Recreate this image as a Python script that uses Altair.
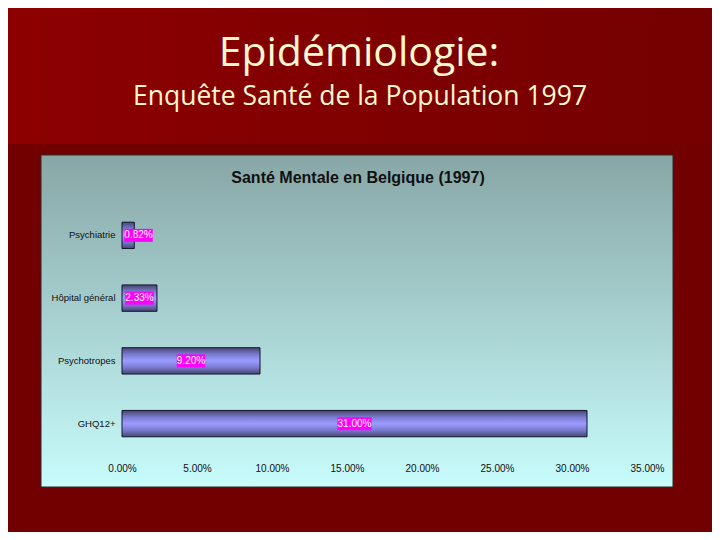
import altair as alt
import pandas as pd

# ---- data ----
categories = ["Psychiatrie", "Hôpital général", "Psychotropes", "GHQ12+"]
values = [0.0082, 0.0233, 0.092, 0.31]
x_ticks = [0.0, 0.05, 0.10, 0.15, 0.20, 0.25, 0.30, 0.35]
slide_title = "Epidémiologie:"
slide_subtitle = "Enquête Santé de la Population 1997"
chart_title = "Santé Mentale en Belgique (1997)"

df = pd.DataFrame({"cat": categories, "v": values})
one = pd.DataFrame({"t": [0]})

W, H = 525, 251
PL, PT, PR, PB = 114, 196, 65, 77

xscale = alt.Scale(domain=[0, 0.35], nice=False, zero=True)
yscale = alt.Scale(domain=categories, paddingInner=0.58, paddingOuter=0.29)

# backgrounds
bg = alt.Chart(one).mark_rect(color="#720000").encode(
    x=alt.value(-PL), x2=alt.value(W + PR), y=alt.value(-PT), y2=alt.value(H + PB)
)
bg_top = alt.Chart(one).mark_rect(
    color=alt.Gradient(
        gradient="linear", x1=0, x2=1, y1=0, y2=0,
        stops=[alt.GradientStop(offset=0, color="#8d0000"),
               alt.GradientStop(offset=1, color="#740000")],
    )
).encode(x=alt.value(-PL), x2=alt.value(W + PR), y=alt.value(-PT), y2=alt.value(-60))

panel = alt.Chart(one).mark_rect(
    color=alt.Gradient(
        gradient="linear", x1=0, x2=0, y1=0, y2=1,
        stops=[alt.GradientStop(offset=0, color="#88a6a6"),
               alt.GradientStop(offset=1, color="#c8fcfc")],
    ),
    stroke="#2a2a2a", strokeWidth=1,
).encode(x=alt.value(-81), x2=alt.value(551), y=alt.value(-49), y2=alt.value(283))

bar_grad = alt.Gradient(
    gradient="linear", x1=0, x2=0, y1=0, y2=1,
    stops=[alt.GradientStop(offset=0, color="#45456e"),
           alt.GradientStop(offset=0.25, color="#7a7ad0"),
           alt.GradientStop(offset=0.5, color="#9c9cff"),
           alt.GradientStop(offset=0.75, color="#7a7ad0"),
           alt.GradientStop(offset=1, color="#45456e")],
)

base = alt.Chart(df)

bars = base.mark_bar(color=bar_grad, stroke="#15152a", strokeWidth=1).encode(
    x=alt.X("v:Q", scale=xscale,
            axis=alt.Axis(values=x_ticks, format=".2%", title=None, domain=False,
                          ticks=False, grid=False, labelFont="Liberation Sans",
                          labelFontSize=10, labelColor="#111", labelPadding=8,
                          labelFlush=False, zindex=2)),
    y=alt.Y("cat:N", scale=yscale, sort=categories,
            axis=alt.Axis(title=None, domain=False, ticks=False, grid=False,
                          labelFont="Liberation Sans", labelFontSize=9.5,
                          labelColor="#111", labelPadding=7, zindex=2)),
)

lab = base.transform_calculate(
    c="max(datum.v / 2, 0.011)",
    txt="format(datum.v, '.2%')",
).transform_calculate(
    lo="datum.c - length(datum.txt) * 0.0019",
    hi="datum.c + length(datum.txt) * 0.0019",
)

boxes = lab.mark_bar(color="#ff00ff", height=13).encode(
    x=alt.X("lo:Q", scale=xscale), x2="hi:Q",
    y=alt.Y("cat:N", scale=yscale, sort=categories),
)
texts = lab.mark_text(color="#ffffff", font="Liberation Sans", fontSize=10,
                      align="center", baseline="middle").encode(
    x=alt.X("c:Q", scale=xscale),
    y=alt.Y("cat:N", scale=yscale, sort=categories),
    text="txt:N",
)

t1 = alt.Chart(pd.DataFrame({"t": [slide_title]})).mark_text(
    font="Open Sans", fontSize=41, color="#fff8cf", align="center", baseline="alphabetic"
).encode(x=alt.value(237), y=alt.value(-138), text="t:N")
t2 = alt.Chart(pd.DataFrame({"t": [slide_subtitle]})).mark_text(
    font="Open Sans", fontSize=26.5, color="#fff8cf", align="center", baseline="alphabetic"
).encode(x=alt.value(238), y=alt.value(-99), text="t:N")
t3 = alt.Chart(pd.DataFrame({"t": [chart_title]})).mark_text(
    font="Liberation Sans", fontSize=16, fontWeight="bold", color="#111",
    align="center", baseline="alphabetic"
).encode(x=alt.value(236), y=alt.value(-21), text="t:N")

chart = alt.layer(bg, bg_top, panel, bars, boxes, texts, t1, t2, t3).properties(
    width=W, height=H,
    autosize=alt.AutoSizeParams(type="none"),
    padding={"left": PL, "top": PT, "right": PR, "bottom": PB},
    background="#720000",
).configure_view(strokeWidth=0)

chart.save("out.html", embed_options={"renderer": "svg", "actions": False})
